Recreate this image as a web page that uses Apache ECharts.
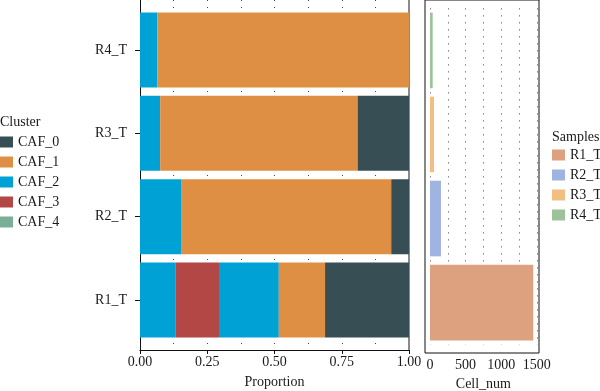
<!DOCTYPE html>
<html>
<head>
<meta charset="utf-8">
<script src="https://cdn.jsdelivr.net/npm/echarts@6/dist/echarts.min.js"></script>
<style>
  html, body { margin: 0; padding: 0; background: #fff; }
  #chart { width: 600px; height: 391px; }
</style>
</head>
<body>
<div id="chart"></div>
<script>
// samples, bottom to top
const samples = ['R1_T', 'R2_T', 'R3_T', 'R4_T'];

// proportion of each cluster per sample (R1_T, R2_T, R3_T, R4_T)
const caf0 = [0.312, 0.066, 0.191, 0];
const caf1 = [0.172, 0.779, 0.734, 0.935];
const caf2 = [0.219, 0.155, 0.075, 0.065];
const caf3 = [0.164, 0, 0, 0];
const caf4 = [0.133, 0, 0, 0];

// total cells per sample
const cellNum = [1450, 154, 56, 38];

const propTicks = [0, 0.25, 0.5, 0.75, 1];
const cellTicks = [0, 500, 1000, 1500];

const clusterColors = {
  CAF_0: '#374E55',
  CAF_1: '#DF8F44',
  CAF_2: '#00A1D5',
  CAF_3: '#B24745',
  CAF_4: '#00A1D5'
};
const clusterLegendColors = ['#374E55', '#DF8F44', '#00A1D5', '#B24745', '#79AF97'];
const sampleColors = ['#DDA17F', '#9FB4E0', '#F3BE82', '#9DC29A'];

const font = 'Liberation Serif';
const txt = { fontFamily: font, fontSize: 14, color: '#1a1a1a' };
const dotted = { color: '#444', width: 1, type: [1, 6] };

const chart = echarts.init(document.getElementById('chart'));

const clusterSeries = [
  ['CAF_4', caf4], ['CAF_3', caf3], ['CAF_2', caf2], ['CAF_1', caf1], ['CAF_0', caf0]
].map(([name, vals]) => ({
  name: name,
  type: 'bar',
  stack: 'prop',
  xAxisIndex: 1,
  yAxisIndex: 2,
  barCategoryGap: '10%',
  itemStyle: { color: clusterColors[name] },
  data: vals.map(v => (v === 0 ? '-' : v))
}));

const sampleSeries = samples.map((s, i) => ({
  name: s,
  type: 'bar',
  stack: 'cells',
  xAxisIndex: 3,
  yAxisIndex: 4,
  barCategoryGap: '10%',
  itemStyle: { color: sampleColors[i] },
  data: samples.map((_, j) => (j === i ? cellNum[i] : '-'))
}));

chart.setOption({
  animation: false,
  title: [
    { text: 'Cluster', left: 0, top: 115, padding: 0, textStyle: Object.assign({}, txt, { fontWeight: 'normal' }) },
    { text: 'Samples', left: 552, top: 130, padding: 0, textStyle: Object.assign({}, txt, { fontWeight: 'normal' }) }
  ],
  legend: [
    {
      orient: 'vertical', left: 0, top: 135, padding: 0,
      itemWidth: 13, itemHeight: 11, itemGap: 6,
      icon: 'rect', selectedMode: false,
      textStyle: txt,
      data: ['CAF_0', 'CAF_1', 'CAF_2', 'CAF_3', 'CAF_4'].map((n, i) => ({
        name: n, itemStyle: { color: clusterLegendColors[i] }
      }))
    },
    {
      orient: 'vertical', left: 552, top: 148, padding: 0,
      itemWidth: 13, itemHeight: 11, itemGap: 6,
      icon: 'rect', selectedMode: false,
      textStyle: txt,
      data: samples
    }
  ],
  grid: [
    // left frame
    { left: 140, width: 269, top: 0, height: 350, outerBoundsMode: 'none' },
    // left bars
    { left: 140, width: 269, top: 8.33, height: 333.33, outerBoundsMode: 'none' },
    // right frame
    { left: 425, width: 114, top: 0, height: 353, show: true, borderColor: '#111', borderWidth: 1, outerBoundsMode: 'none' },
    // right bars
    { left: 430, width: 106.8, top: 8.4, height: 336.2, outerBoundsMode: 'none' }
  ],
  xAxis: [
    {
      gridIndex: 0, type: 'value', min: 0, max: 1, interval: 0.25,
      axisLine: { lineStyle: { color: '#111' } },
      axisTick: { show: true, length: 4, lineStyle: { color: '#111' } },
      axisLabel: Object.assign({}, txt, { margin: 5, formatter: v => v.toFixed(2), customValues: propTicks }),
      splitLine: { show: true, lineStyle: dotted },
      minorTick: { show: false, splitNumber: 2 },
      minorSplitLine: { show: true, lineStyle: dotted },
      name: 'Proportion', nameLocation: 'middle', nameGap: 25, nameTextStyle: txt
    },
    {
      gridIndex: 1, type: 'value', min: 0, max: 1, show: false
    },
    {
      gridIndex: 2, type: 'value', min: 0, max: 1, show: false
    },
    {
      gridIndex: 3, type: 'value', min: 0, max: 1500, interval: 500, offset: 8.4,
      axisLine: { show: false },
      axisTick: { show: false },
      axisLabel: Object.assign({}, txt, { margin: 5, formatter: v => String(v), customValues: cellTicks }),
      splitLine: { show: true, lineStyle: dotted },
      minorTick: { show: false, splitNumber: 2 },
      minorSplitLine: { show: true, lineStyle: dotted },
      name: 'Cell_num', nameLocation: 'middle', nameGap: 24, nameTextStyle: txt
    }
  ],
  yAxis: [
    {
      gridIndex: 0, type: 'value', min: 0, max: 1,
      axisLine: { show: true, lineStyle: { color: '#111' } },
      axisTick: { show: false }, axisLabel: { show: false }, splitLine: { show: false }
    },
    {
      gridIndex: 0, type: 'value', min: 0, max: 1, position: 'right',
      axisLine: { show: true, lineStyle: { color: '#8a8a8a', width: 2 } },
      axisTick: { show: false }, axisLabel: { show: false }, splitLine: { show: false }
    },
    {
      gridIndex: 1, type: 'category', data: samples,
      axisLine: { show: false },
      axisTick: { show: true, alignWithLabel: true, length: 5, lineStyle: { color: '#111' } },
      axisLabel: Object.assign({}, txt, { margin: 13 }),
      splitLine: { show: false }
    },
    {
      gridIndex: 2, type: 'value', min: 0, max: 1, show: false
    },
    {
      gridIndex: 3, type: 'category', data: samples,
      axisLine: { show: false }, axisTick: { show: false }, axisLabel: { show: false },
      splitLine: { show: false }
    }
  ],
  series: clusterSeries.concat(sampleSeries)
});
</script>
</body>
</html>
